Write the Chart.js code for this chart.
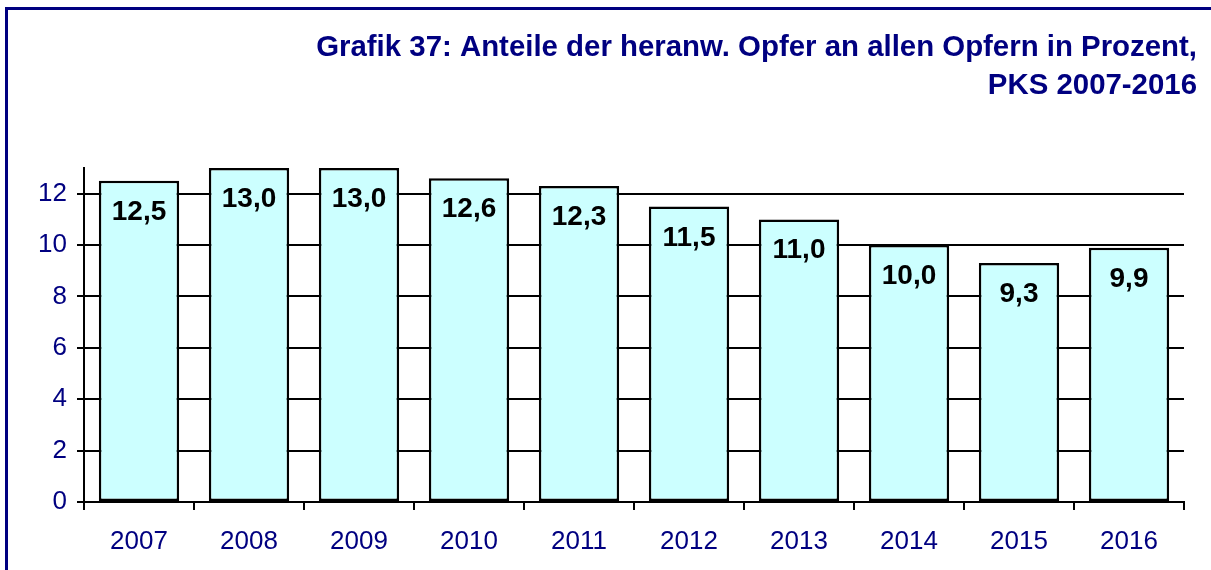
<!DOCTYPE html>
<html>
<head>
<meta charset="utf-8">
<script src="https://cdn.jsdelivr.net/npm/chart.js@4.4.1/dist/chart.umd.min.js"></script>
<style>
    html, body { margin: 0; padding: 0; background: #fff; overflow: hidden; }
    #wrap { position: relative; width: 1211px; height: 570px; }
    #frame {
        position: absolute; left: 5px; top: 7px; width: 1300px; height: 700px;
        border: 3px solid #000080; box-sizing: border-box;
    }
    #chart { position: absolute; left: 0; top: 0; }
</style>
</head>
<body>
<div id="wrap">
    <div id="frame"></div>
    <canvas id="chart" width="1211" height="570"></canvas>
</div>
<script>
const years = ['2007', '2008', '2009', '2010', '2011', '2012', '2013', '2014', '2015', '2016'];
const shares = [12.5, 13.0, 13.0, 12.6, 12.3, 11.5, 11.0, 10.0, 9.3, 9.9];
const yTicks = [0, 2, 4, 6, 8, 10, 12];
const titleLines = ['Grafik 37: Anteile der heranw. Opfer an allen Opfern in Prozent,', 'PKS 2007-2016'];

const navy = '#000080';
const fontFamily = '"Liberation Sans", Arial, Helvetica, sans-serif';

// title in the top right corner
const titlePlugin = {
    id: 'rightTitle',
    afterDraw(chart) {
        const ctx = chart.ctx;
        ctx.save();
        ctx.fillStyle = navy;
        ctx.font = 'bold 29.4px ' + fontFamily;
        ctx.textAlign = 'right';
        ctx.textBaseline = 'alphabetic';
        ctx.fillText(titleLines[0], 1197, 56);
        ctx.fillText(titleLines[1], 1197, 94);
        ctx.restore();
    }
};

// value printed inside each bar, German decimal comma
const valueLabels = {
    id: 'valueLabels',
    afterDatasetsDraw(chart) {
        const ctx = chart.ctx;
        const meta = chart.getDatasetMeta(0);
        ctx.save();
        ctx.fillStyle = '#000';
        ctx.font = 'bold 28px ' + fontFamily;
        ctx.textAlign = 'center';
        ctx.textBaseline = 'alphabetic';
        meta.data.forEach((bar, i) => {
            const text = shares[i].toFixed(1).replace('.', ',');
            ctx.fillText(text, bar.x, bar.y + 39);
        });
        ctx.restore();
    }
};

new Chart(document.getElementById('chart'), {
    type: 'bar',
    data: {
        labels: years,
        datasets: [{
            data: shares,
            backgroundColor: '#CCFFFF',
            borderColor: '#000',
            borderWidth: 2.5,
            borderSkipped: false,
            categoryPercentage: 1,
            barPercentage: 0.73
        }]
    },
    options: {
        responsive: false,
        animation: false,
        devicePixelRatio: 1,
        layout: { padding: { left: 0, right: 27, top: 168, bottom: 0 } },
        plugins: {
            legend: { display: false },
            tooltip: { enabled: false },
            title: { display: false }
        },
        scales: {
            x: {
                grid: {
                    display: true,
                    drawOnChartArea: false,
                    drawTicks: true,
                    tickLength: 8,
                    color: '#000',
                    lineWidth: 2,
                    offset: true
                },
                border: { display: true, color: '#000', width: 2 },
                ticks: {
                    color: navy,
                    font: { family: fontFamily, size: 26 },
                    padding: 16,
                    maxRotation: 0
                },
                afterFit(scale) { scale.height = 68; }
            },
            y: {
                min: 0,
                max: 13,
                afterBuildTicks(scale) {
                    scale.ticks = yTicks.map(v => ({ value: v }));
                },
                grid: {
                    color: '#000',
                    lineWidth: 2,
                    tickLength: 7,
                    drawTicks: true
                },
                border: { display: true, color: '#000', width: 2 },
                ticks: {
                    color: navy,
                    font: { family: fontFamily, size: 26 },
                    padding: 10
                },
                afterFit(scale) { scale.width = 84; }
            }
        }
    },
    plugins: [titlePlugin, valueLabels]
});
</script>
</body>
</html>
